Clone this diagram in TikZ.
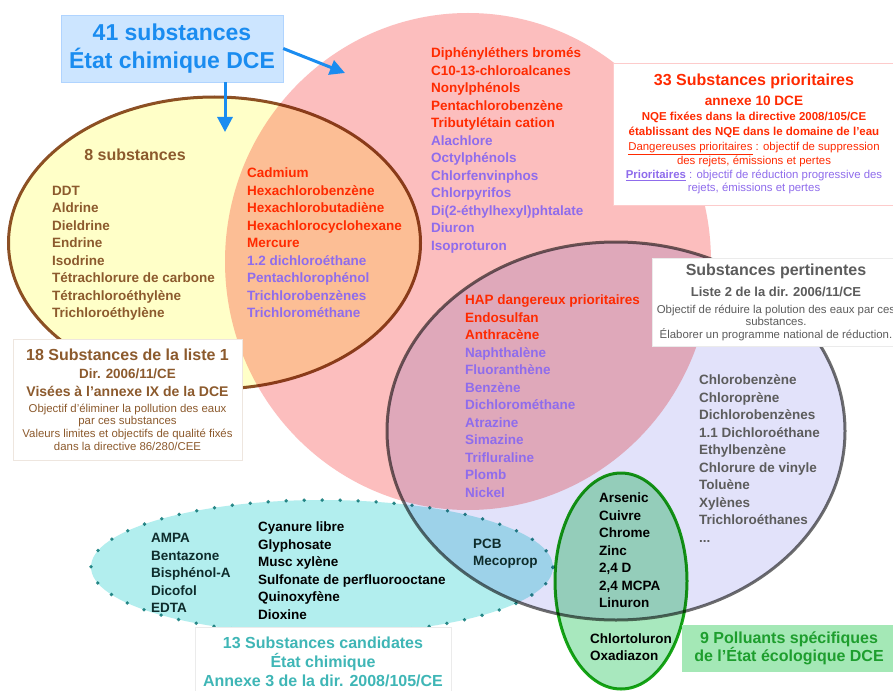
\documentclass[tikz,border=0pt]{standalone}
\usepackage{fontspec}
\setmainfont{Liberation Sans}
\usetikzlibrary{arrows.meta,shapes.geometric}

\definecolor{pinkset}{HTML}{FCBEBE}
\definecolor{yellowset}{HTML}{FFFFC8}
\definecolor{lavset}{HTML}{E2E2FA}
\definecolor{cyanset}{HTML}{B2EEEE}
\definecolor{greenset}{HTML}{A8E8BE}
\definecolor{brownline}{HTML}{8C5028}
\definecolor{grayline}{HTML}{6E6E6E}
\definecolor{tealdot}{HTML}{2E8C8C}
\definecolor{greenline}{HTML}{18A818}
\definecolor{redtxt}{HTML}{FF2A00}
\definecolor{purtxt}{HTML}{8F6CEC}
\definecolor{browntxt}{HTML}{8C5A2D}
\definecolor{graytxt}{HTML}{5C5C5C}
\definecolor{tealtxt}{HTML}{3FB6B6}
\definecolor{greentxt}{HTML}{1E9E2E}
\definecolor{bluetxt}{HTML}{1A8CF0}
\definecolor{darktxt}{HTML}{0E2C2C}
\definecolor{titlefill}{HTML}{CCE5FF}
\definecolor{titleline}{HTML}{B0D4FF}
\definecolor{ecofill}{HTML}{A4E8B6}

\newcommand{\bigfont}{\fontsize{16}{14}\selectfont\bfseries}
\newcommand{\midfont}{\fontsize{13.6}{14}\selectfont\bfseries}
\newcommand{\smallbold}{\fontsize{11.5}{14}\selectfont\bfseries}

\begin{document}
\begin{tikzpicture}[
  x=1pt, y=-1pt,
  setshape/.style={ellipse, inner sep=0pt},
  lst/.style={font=\bfseries\fontsize{13.5}{17.5}\selectfont, align=left, inner sep=0pt, anchor=base west},
  infobox/.style={rectangle, align=center, inner sep=0pt, fill=white},
  arrow/.style={-{Triangle[length=15pt,width=15pt]}, line width=3pt, draw=bluetxt}
]
\useasboundingbox[fill=white] (0,0) rectangle (893,690);

% sets
\begin{scope}[blend mode=multiply]
  \node[setshape, minimum width=412, minimum height=292, fill=yellowset, draw=brownline, line width=3pt] (liste1) at (214.5,243) {};
  \node[setshape, minimum width=486, minimum height=497, fill=pinkset] (prio) at (468,261.5) {};
  \node[setshape, minimum width=458, minimum height=378, fill=lavset, draw=grayline, line width=3pt] (pertin) at (616,431) {};
  \node[setshape, minimum width=462, minimum height=134, fill=cyanset, draw=tealdot, line width=3.8pt, line cap=round, dash pattern=on 0pt off 18pt] (cand) at (322,567) {};
  \node[setshape, minimum width=132, minimum height=216, fill=greenset, draw=greenline, line width=3pt] (ecolo) at (621,581) {};
\end{scope}

% lists (placed at the baseline of their last line)
\node[font=\bigfont, text=browntxt] (huit) at (135,155) {8 substances};
\node[lst, text=browntxt] (brownlist) at (52,317.8) {DDT\\Aldrine\\Dieldrine\\Endrine\\Isodrine\\T\'etrachlorure de carbone\\T\'etrachloro\'ethyl\`ene\\Trichloro\'ethyl\`ene};
\node[lst, text=redtxt] (orangelist) at (247,317.5) {Cadmium\\Hexachlorobenz\`ene\\Hexachlorobutadi\`ene\\Hexachlorocyclohexane\\Mercure\\
  \textcolor{purtxt}{1.2 dichloro\'ethane}\\\textcolor{purtxt}{Pentachloroph\'enol}\\\textcolor{purtxt}{Trichlorobenz\`enes}\\\textcolor{purtxt}{Trichlorom\'ethane}};
\node[lst, text=redtxt] (redlist) at (431,250) {Diph\'enyl\'ethers brom\'es\\C10-13-chloroalcanes\\Nonylph\'enols\\Pentachlorobenz\`ene\\Tributyl\'etain cation\\
  \textcolor{purtxt}{Alachlore}\\\textcolor{purtxt}{Octylph\'enols}\\\textcolor{purtxt}{Chlorfenvinphos}\\\textcolor{purtxt}{Chlorpyrifos}\\\textcolor{purtxt}{Di(2-\'ethylhexyl)phtalate}\\\textcolor{purtxt}{Diuron}\\\textcolor{purtxt}{Isoproturon}};
\node[lst, text=redtxt] (haplist) at (465,497.3) {HAP dangereux prioritaires\\Endosulfan\\Anthrac\`ene\\
  \textcolor{purtxt}{Naphthal\`ene}\\\textcolor{purtxt}{Fluoranth\`ene}\\\textcolor{purtxt}{Benz\`ene}\\\textcolor{purtxt}{Dichlorom\'ethane}\\\textcolor{purtxt}{Atrazine}\\\textcolor{purtxt}{Simazine}\\\textcolor{purtxt}{Trifluraline}\\\textcolor{purtxt}{Plomb}\\\textcolor{purtxt}{Nickel}};
\node[lst, text=graytxt] (graylist) at (699,542.3) {Chlorobenz\`ene\\Chloropr\`ene\\Dichlorobenz\`enes\\1.1 Dichloro\'ethane\\Ethylbenz\`ene\\Chlorure de vinyle\\Tolu\`ene\\Xyl\`enes\\Trichloro\'ethanes\\...};
\node[lst] (metals) at (599,607.8) {Arsenic\\Cuivre\\Chrome\\Zinc\\2,4 D\\2,4 MCPA\\Linuron};
\node[lst] (lowgreen) at (590,660.8) {Chlortoluron\\[-0.5pt]Oxadiazon};
\node[lst, text=darktxt] (candleft) at (151,612.5) {AMPA\\Bentazone\\Bisph\'enol-A\\Dicofol\\EDTA};
\node[lst] (candmid) at (258,619) {Cyanure libre\\Glyphosate\\Musc xyl\`ene\\Sulfonate de perfluorooctane\\Quinoxyf\`ene\\Dioxine};
\node[lst, text=darktxt] (candright) at (473,565.5) {PCB\\Mecoprop};

% boxes
\node[infobox, fill=titlefill, draw=titleline, minimum width=222, minimum height=67, text=bluetxt, font=\bfseries\fontsize{23}{28}\selectfont] (title) at (172,48.5) {41 substances\\\'Etat chimique DCE};
\node[infobox, draw=pinkset!80!white, minimum width=282, minimum height=142, text=redtxt, font=\fontsize{11.4}{14}\selectfont] (prioinfo) at (754,134) {
  {\bigfont 33 Substances prioritaires}\\[6pt]
  {\midfont annexe 10 DCE}\\[1pt]
  {\smallbold NQE fix\'ees dans la directive 2008/105/CE}\\[1pt]
  {\smallbold \'etablissant des NQE dans le domaine de l'eau}\\[1pt]
  \underline{Dangereuses prioritaires} : objectif de suppression\\
  des rejets, \'emissions et pertes\\
  \textcolor{purtxt}{\textbf{\underline{Prioritaires}} : objectif de r\'eduction progressive des}\\[-1pt]
  \textcolor{purtxt}{rejets, \'emissions et pertes}};
\node[infobox, draw=black!8, minimum width=248, minimum height=88, text=graytxt, font=\fontsize{11.4}{12.5}\selectfont] (pertinfo) at (776,302.5) {
  {\fontsize{16}{12.5}\selectfont\bfseries Substances pertinentes}\\[7.5pt]
  {\fontsize{13}{12.5}\selectfont\bfseries Liste 2 de la dir. 2006/11/CE}\\[4.5pt]
  Objectif de r\'eduire la polution des eaux par ces\\[-0.5pt]
  substances.\\[0.5pt]
  \'Elaborer un programme national de r\'eduction.};
\node[infobox, draw=browntxt!15, minimum width=229, minimum height=121, text=browntxt, font=\fontsize{11.4}{13}\selectfont] (l1info) at (127.5,399.5) {
  {\fontsize{16}{13}\selectfont\bfseries 18 Substances de la liste 1}\\[5pt]
  {\fontsize{13.4}{13}\selectfont\bfseries Dir. 2006/11/CE}\\[5pt]
  {\fontsize{14}{13}\selectfont\bfseries Vis\'ees \`a l'annexe IX de la DCE}\\[3pt]
  Objectif d'\'eliminer la pollution des eaux\\[-1pt]
  par ces substances\\
  Valeurs limites et objectifs de qualit\'e fix\'es\\
  dans la directive 86/280/CEE};
\node[infobox, draw=black!8, minimum width=256, minimum height=70, text=tealtxt, font=\bfseries\fontsize{16}{19}\selectfont] (candinfo) at (323,662) {13 Substances candidates\\\'Etat chimique\\Annexe 3 de la dir. 2008/105/CE};
\node[infobox, fill=ecofill, minimum width=214, minimum height=47, text=greentxt, font=\bfseries\fontsize{16}{18}\selectfont] (ecoinfo) at (789,648.5) {9 Polluants sp\'ecifiques\\de l'\'Etat \'ecologique DCE};

% arrows
\coordinate (priotip) at (345,73);
\coordinate (l1tip) at (225,132);
\draw[arrow] (title.east) -- (priotip);
\draw[arrow] (title.south -| l1tip) -- (l1tip);

\end{tikzpicture}
\end{document}
